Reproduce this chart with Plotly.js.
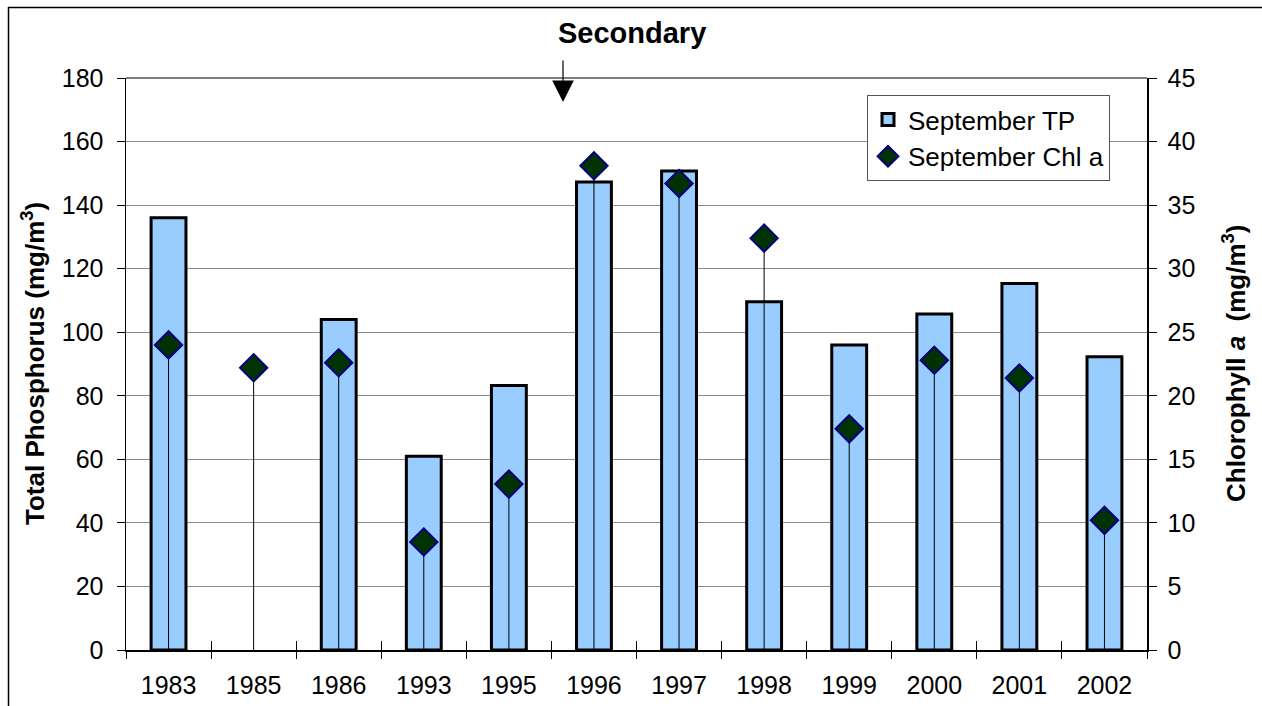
<!DOCTYPE html>
<html>
<head>
<meta charset="utf-8">
<script src="https://cdn.plot.ly/plotly-3.0.1.min.js"></script>
<style>
html,body{margin:0;padding:0;background:#fff;overflow:hidden;}
#chart{width:1262px;height:706px;}
</style>
</head>
<body>
<div id="chart"></div>
<script>
const years = ["1983","1985","1986","1993","1995","1996","1997","1998","1999","2000","2001","2002"];
const septTP = [136, null, 104, 61, 83.2, 147.3, 150.7, 109.6, 96, 105.7, 115.3, 92.3];
const septChl = [24.0, 22.2, 22.6, 8.5, 13.05, 38.1, 36.7, 32.4, 17.4, 22.8, 21.4, 10.2];
const leftTicks = [0,20,40,60,80,100,120,140,160,180];
const rightTicks = [0,5,10,15,20,25,30,35,40,45];
const zeros = septChl.map(() => 0);

const FONT = '"Liberation Sans", Arial, sans-serif';
const TS = 25;

const L = 126, R = 1147, T = 78, B = 650, W = 1262, H = 706;
const px = v => (v - L) / (R - L);
const py = v => (B - v) / (B - T);

const traces = [
  {
    type: 'bar', name: 'September TP', x: years, y: septTP,
    marker: {color: '#99CCFF', line: {color: '#000000', width: 3}},
    legendgroup: 'a', hoverinfo: 'x+y'
  },
  {
    type: 'scatter', mode: 'markers', name: 'September Chl a', x: years, y: septChl,
    yaxis: 'y2',
    marker: {symbol: 'diamond', size: 21, color: '#003300', line: {color: '#000080', width: 2}},
    error_y: {type: 'data', symmetric: false, array: zeros, arrayminus: septChl, width: 0, thickness: 1, color: '#000000'},
    legendgroup: 'b'
  },
  {
    type: 'scatter', mode: 'markers', x: years, y: years.map(() => null), xaxis: 'x2',
    showlegend: false, hoverinfo: 'skip'
  }
];

const layout = {
  width: W, height: H,
  margin: {l: L, r: W - R, t: T, b: H - B},
  paper_bgcolor: '#ffffff', plot_bgcolor: '#ffffff',
  font: {family: FONT, size: TS, color: '#000'},
  bargap: 0.59,
  showlegend: true,
  legend: {
    x: px(867), y: py(95), xanchor: 'left', yanchor: 'top',
    bgcolor: '#ffffff', bordercolor: '#555555', borderwidth: 1,
    font: {family: FONT, size: 26, color: '#000'},
    traceorder: 'grouped', tracegroupgap: 0, itemwidth: 30
  },
  xaxis: {
    type: 'category', categoryarray: years, categoryorder: 'array',
    tickson: 'boundaries', ticks: 'outside', ticklen: 7, tickwidth: 1, tickcolor: '#000',
    showline: true, linecolor: '#000', linewidth: 1.5, showgrid: false, zeroline: false,
    tickfont: {family: FONT, size: TS, color: '#000'}, ticklabelstandoff: 12,
    range: [-0.5, 11.5], fixedrange: true
  },
  xaxis2: {
    type: 'category', categoryarray: years, categoryorder: 'array', overlaying: 'x', anchor: 'y',
    tickson: 'boundaries', ticks: 'inside', ticklen: 9, tickwidth: 1, tickcolor: '#000',
    showticklabels: false, showline: false, showgrid: false, zeroline: false,
    range: [-0.5, 11.5], fixedrange: true
  },
  yaxis: {
    range: [0, 180], tickvals: leftTicks, ticktext: leftTicks.map(String),
    ticks: 'outside', ticklen: 8, tickwidth: 1, tickcolor: '#000',
    showline: true, linecolor: '#000', linewidth: 1.5,
    showgrid: true, gridcolor: '#8c8c8c', gridwidth: 1, zeroline: false,
    tickfont: {family: FONT, size: TS, color: '#000'}, ticklabelstandoff: 8,
    automargin: false, fixedrange: true
  },
  yaxis2: {
    range: [0, 45], tickvals: rightTicks, ticktext: rightTicks.map(String),
    overlaying: 'y', side: 'right',
    ticks: 'outside', ticklen: 8, tickwidth: 1, tickcolor: '#000',
    showline: true, linecolor: '#000', linewidth: 1.5,
    showgrid: false, zeroline: false,
    tickfont: {family: FONT, size: TS, color: '#000'}, ticklabelstandoff: 6,
    automargin: false, fixedrange: true
  },
  annotations: [
    {
      xref: 'paper', yref: 'paper', x: px(632), y: py(33), xanchor: 'center', yanchor: 'middle',
      text: '<b>Secondary</b>', showarrow: false, font: {family: FONT, size: 29, color: '#000'}
    },
    {
      xref: 'paper', yref: 'paper', x: px(563), y: py(102), text: '', showarrow: true,
      arrowhead: 2, arrowsize: 3.6, arrowwidth: 1.2, arrowcolor: '#000', ax: 0, ay: -43
    },
    {
      xref: 'paper', yref: 'paper', x: px(33), y: 0.5, xanchor: 'center', yanchor: 'middle',
      textangle: -90, showarrow: false,
      text: '<b>Total Phosphorus (mg/m<sup>3</sup>)</b>', font: {family: FONT, size: 26, color: '#000'}
    },
    {
      xref: 'paper', yref: 'paper', x: px(1234), y: 0.5, xanchor: 'center', yanchor: 'middle',
      textangle: -90, showarrow: false,
      text: '<b>Chlorophyll <i>a</i>  (mg/m<sup>3</sup>)</b>', font: {family: FONT, size: 26, color: '#000'}
    }
  ],
  shapes: [
    {type: 'line', xref: 'paper', yref: 'paper', x0: px(8), x1: px(1300), y0: py(7.5), y1: py(7.5), line: {color: '#000', width: 1.5}},
    {type: 'line', xref: 'paper', yref: 'paper', x0: px(8.5), x1: px(8.5), y0: py(7), y1: py(760), line: {color: '#000', width: 1.5}},
    {type: 'line', xref: 'paper', yref: 'paper', x0: 0, x1: 1, y0: 1, y1: 1, line: {color: '#555', width: 1.5}}
  ]
};

Plotly.newPlot('chart', traces, layout, {displayModeBar: false, staticPlot: true});
</script>
</body>
</html>
